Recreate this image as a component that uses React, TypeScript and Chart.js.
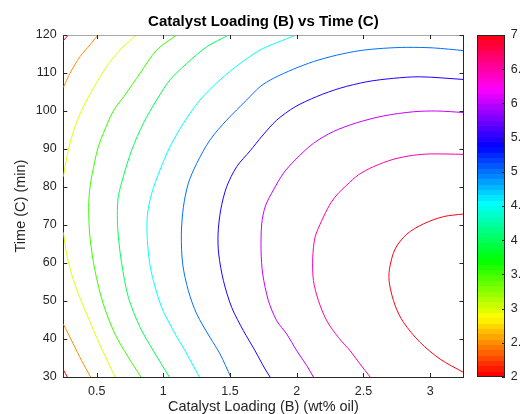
import React, { useEffect, useRef } from "react";
import { Chart, registerables } from "chart.js";

Chart.register(...registerables);

const TITLE = "Catalyst Loading (B) vs Time (C)";
const X_LABEL = "Catalyst Loading (B) (wt% oil)";
const Y_LABEL = "Time (C) (min)";

const xTicks = [0.5, 1, 1.5, 2, 2.5, 3];
const yTicks = [30, 40, 50, 60, 70, 80, 90, 100, 110, 120];
const colorbarTicks = [2, 2.5, 3, 3.5, 4, 4.5, 5, 5.5, 6, 6.5, 7];
const xRange = [0.25, 3.25];
const yRange = [30, 120];
const colorRange = [2, 7];

type P = [number, number];

// contour level 2.0
const level20Top: P[] = [[0.25, 118.5], [0.2875, 120]];
const level20Bottom: P[] = [[0.25, 31.9], [0.28, 30]];
// contour level 2.5
const level25Top: P[] = [[0.51, 120], [0.45, 117.4], [0.375, 114.3], [0.3, 109.9], [0.25, 106.2]];
const level25Bottom: P[] = [[0.25, 43.95], [0.325, 38.7], [0.3875, 34.3], [0.455, 30]];
// contour level 3.0
const level30Top: P[] = [[0.795, 120], [0.675, 116.05], [0.575, 111.7], [0.475, 106.0], [0.4, 101.1], [0.3375, 95.9], [0.2875, 89.7], [0.25, 82.7]];
const level30Bottom: P[] = [[0.25, 68.1], [0.275, 62.4], [0.3125, 57.1], [0.3625, 51.9], [0.425, 46.6], [0.5, 40.4], [0.5625, 35.6], [0.6375, 30]];
// contour level 3.5
const level35: P[] = [[1.1, 120], [0.95, 116.05], [0.825, 109.9], [0.7125, 104.2], [0.625, 100], [0.55, 94.1], [0.5075, 90], [0.4675, 83.6], [0.45, 80], [0.44, 74.65], [0.45, 66.8], [0.4875, 58.0], [0.55, 49.2], [0.6375, 41.3], [0.7375, 35.2], [0.8325, 30]];
// contour level 4.0
const level40: P[] = [[1.49, 120], [1.325, 116.9], [1.175, 112.5], [1.05, 108.2], [0.95, 102.9], [0.85, 96.75], [0.7625, 89.7], [0.7, 82.7], [0.6625, 77.5], [0.655, 72.5], [0.6625, 67.0], [0.6875, 59.9], [0.7375, 51.0], [0.825, 43.1], [0.925, 36.9], [1.045, 30]];
// contour level 4.5
const level45: P[] = [[1.995, 120], [1.85, 117.98], [1.725, 116.05], [1.575, 112.5], [1.425, 108.2], [1.275, 102.9], [1.15, 96.75], [1.05, 90.6], [0.975, 84.5], [0.9125, 78.3], [0.88, 72.5], [0.88, 66.0], [0.8975, 60.0], [0.925, 55.4], [0.9875, 48.3], [1.075, 42.2], [1.1625, 36.9], [1.27, 30]];
// contour level 5.0
const level50: P[] = [[3.25, 115.9], [3.025, 116.6], [2.825, 116.75], [2.65, 116.5], [2.475, 115.9], [2.3, 114.7], [2.125, 113.0], [1.975, 111.0], [1.825, 108.6], [1.725, 106.4], [1.625, 102.9], [1.475, 97.6], [1.35, 92.4], [1.25, 86.2], [1.1875, 81.0], [1.15, 74.65], [1.135, 67.5], [1.145, 59.7], [1.1875, 52.7], [1.25, 46.6], [1.35, 40.4], [1.425, 36.06], [1.505, 30]];
// contour level 5.5
const level55: P[] = [[3.25, 108.3], [2.925, 109.0], [2.725, 108.6], [2.525, 107.7], [2.325, 106.0], [2.15, 103.8], [1.9875, 101.1], [1.85, 97.6], [1.74, 93.4], [1.65, 89.5], [1.55, 85.35], [1.475, 80.1], [1.43, 74.0], [1.41, 67.6], [1.415, 62.4], [1.45, 55.4], [1.5125, 48.3], [1.6, 42.2], [1.6875, 36.9], [1.7625, 32.1], [1.8, 30]];
// contour level 6.0
const level60: P[] = [[3.25, 99.6], [3.05, 100], [2.875, 99.8], [2.65, 98.7], [2.45, 96.9], [2.275, 94.6], [2.125, 91.5], [1.9875, 87.1], [1.9, 83.6], [1.825, 79.2], [1.765, 75.0], [1.7375, 70.3], [1.7325, 63.25], [1.745, 57.1], [1.7875, 50.1], [1.85, 44.8], [1.925, 41.3], [2.0, 36.9], [2.075, 33.0], [2.125, 30]];
// contour level 6.5
const level65: P[] = [[3.25, 88.6], [3.0, 88.7], [2.875, 88.35], [2.725, 87.3], [2.575, 85.35], [2.4625, 83.2], [2.375, 80.5], [2.3, 77.9], [2.245, 75.2], [2.1875, 71.15], [2.1375, 66.8], [2.12, 61.5], [2.125, 55.4], [2.1625, 50.1], [2.225, 44.8], [2.3125, 40.4], [2.4, 36.9], [2.475, 33.4], [2.55, 30]];
// contour level 7.0
const level70: P[] = [[3.25, 72.9], [3.1, 72.2], [2.95, 70.3], [2.825, 67.6], [2.7375, 63.7], [2.695, 58.4], [2.695, 54.5], [2.7375, 48.8], [2.8, 44.4], [2.925, 39.1], [3.075, 34.7], [3.25, 31.2]];

const contourLevels = [2.0, 2.0, 2.5, 2.5, 3.0, 3.0, 3.5, 4.0, 4.5, 5.0, 5.5, 6.0, 6.5, 7.0];
const contourPaths = [level20Top, level20Bottom, level25Top, level25Bottom, level30Top, level30Bottom, level35, level40, level45, level50, level55, level60, level65, level70];

const FONT = "'Liberation Sans', Arial, Helvetica, sans-serif";
const AXIS_COLOR = "#262626";

function hueToRgb(h: number): string {
  const seg = (h % 360) / 60;
  const i = Math.floor(seg);
  const f = seg - i;
  let r = 0, g = 0, b = 0;
  switch (i) {
    case 0: r = 1; g = f; b = 0; break;
    case 1: r = 1 - f; g = 1; b = 0; break;
    case 2: r = 0; g = 1; b = f; break;
    case 3: r = 0; g = 1 - f; b = 1; break;
    case 4: r = f; g = 0; b = 1; break;
    default: r = 1; g = 0; b = 1 - f; break;
  }
  return `rgb(${Math.round(r * 255)},${Math.round(g * 255)},${Math.round(b * 255)})`;
}

const CMAP_SIZE = 64;
function bandColor(k: number): string {
  return hueToRgb((k / CMAP_SIZE) * 360);
}
function levelColor(level: number): string {
  let idx = Math.floor(((level - colorRange[0]) / (colorRange[1] - colorRange[0])) * CMAP_SIZE);
  idx = Math.max(0, Math.min(CMAP_SIZE - 1, idx));
  return bandColor(idx);
}

const mainFramePlugin = {
  id: "mainFrame",
  afterDraw(chart: any) {
    const { ctx, chartArea, scales } = chart;
    const { left, right, top, bottom } = chartArea;
    const x = scales.x;
    const y = scales.y;
    ctx.save();
    ctx.lineWidth = 1;
    ctx.strokeStyle = "#a8a8a8";
    ctx.beginPath();
    ctx.moveTo(left, Math.round(top) + 0.5);
    ctx.lineTo(right, Math.round(top) + 0.5);
    ctx.stroke();
    ctx.strokeStyle = AXIS_COLOR;
    ctx.beginPath();
    ctx.moveTo(Math.round(right) - 0.5, top);
    ctx.lineTo(Math.round(right) - 0.5, bottom);
    ctx.stroke();
    const L = 4;
    ctx.beginPath();
    for (const t of x.ticks) {
      const px = Math.round(x.getPixelForValue(t.value)) + 0.5;
      ctx.moveTo(px, bottom);
      ctx.lineTo(px, bottom - L);
      ctx.moveTo(px, top);
      ctx.lineTo(px, top + L);
    }
    for (const t of y.ticks) {
      const py = Math.round(y.getPixelForValue(t.value)) + 0.5;
      ctx.moveTo(left, py);
      ctx.lineTo(left + L, py);
      ctx.moveTo(right, py);
      ctx.lineTo(right - L, py);
    }
    ctx.stroke();
    ctx.restore();
  },
};

const colorbarFramePlugin = {
  id: "cbFrame",
  afterDraw(chart: any) {
    const { ctx, chartArea, scales } = chart;
    const { left, right, top, bottom } = chartArea;
    const y = scales.y;
    ctx.save();
    ctx.lineWidth = 1;
    ctx.strokeStyle = AXIS_COLOR;
    ctx.strokeRect(Math.round(left) + 0.5, Math.round(top) + 0.5, Math.round(right) - Math.round(left) - 1, Math.round(bottom) - Math.round(top) - 1);
    ctx.beginPath();
    for (const t of y.ticks) {
      const py = Math.round(y.getPixelForValue(t.value)) + 0.5;
      ctx.moveTo(right, py);
      ctx.lineTo(right - 3, py);
    }
    ctx.stroke();
    ctx.restore();
  },
};

export default function App() {
  const mainRef = useRef<HTMLCanvasElement | null>(null);
  const cbRef = useRef<HTMLCanvasElement | null>(null);

  useEffect(() => {
    Chart.defaults.font.family = FONT;
    const datasets = contourPaths.map((path, i) => ({
      label: `level ${contourLevels[i]}`,
      data: path.map(([x, y]) => ({ x, y })),
      showLine: true,
      borderColor: levelColor(contourLevels[i]),
      backgroundColor: levelColor(contourLevels[i]),
      borderWidth: 1,
      pointRadius: 0,
      pointHoverRadius: 0,
      tension: 0.3,
      fill: false,
    }));

    const main = new Chart(mainRef.current as HTMLCanvasElement, {
      type: "scatter",
      data: { datasets },
      options: {
        animation: false,
        responsive: false,
        devicePixelRatio: 1,
        layout: { padding: { left: 0, right: 58.5, top: 0, bottom: 0 } },
        plugins: {
          legend: { display: false },
          tooltip: { enabled: false },
          title: {
            display: true,
            text: TITLE,
            fullSize: false,
            color: "#000000",
            font: { family: FONT, size: 15, weight: "bold", lineHeight: 1.2 },
            padding: { top: 13, bottom: 4 },
          },
        },
        scales: {
          x: {
            type: "linear",
            position: "bottom",
            min: xRange[0],
            max: xRange[1],
            afterBuildTicks: (scale: any) => {
              scale.ticks = xTicks.map((v) => ({ value: v }));
            },
            afterFit: (scale: any) => {
              scale.height = 37;
            },
            ticks: {
              color: AXIS_COLOR,
              font: { family: FONT, size: 12.5 },
              padding: 7,
              maxRotation: 0,
              autoSkip: false,
              callback: (v: any) => String(v),
            },
            grid: { display: false, drawTicks: false },
            border: { display: true, color: AXIS_COLOR, width: 1 },
            title: {
              display: true,
              text: X_LABEL,
              color: AXIS_COLOR,
              font: { family: FONT, size: 14.5, lineHeight: 1 },
              padding: { top: 0, bottom: 0.25 },
            },
          },
          y: {
            type: "linear",
            position: "left",
            min: yRange[0],
            max: yRange[1],
            afterBuildTicks: (scale: any) => {
              scale.ticks = yTicks.map((v) => ({ value: v }));
            },
            afterFit: (scale: any) => {
              scale.width = 63.3;
            },
            ticks: {
              color: AXIS_COLOR,
              font: { family: FONT, size: 12.5 },
              padding: 6.6,
              autoSkip: false,
              callback: (v: any) => String(v),
            },
            grid: { display: false, drawTicks: false },
            border: { display: true, color: AXIS_COLOR, width: 1 },
            title: {
              display: true,
              text: Y_LABEL,
              color: AXIS_COLOR,
              font: { family: FONT, size: 14.5, lineHeight: 1 },
              padding: { top: 13.25, bottom: 0 },
            },
          },
        },
      },
      plugins: [mainFramePlugin],
    } as any);

    const cb = new Chart(cbRef.current as HTMLCanvasElement, {
      type: "bar",
      data: {
        labels: ["colorbar"],
        datasets: [
          {
            data: [[colorRange[0], colorRange[1]]],
            barPercentage: 1,
            categoryPercentage: 1,
            borderWidth: 0,
            backgroundColor: (c: any) => {
              const chart = c.chart;
              const area = chart.chartArea;
              const ys = chart.scales.y;
              if (!area || !ys) return "#ff0000";
              const y0 = ys.getPixelForValue(colorRange[0]);
              const y1 = ys.getPixelForValue(colorRange[1]);
              const g = chart.ctx.createLinearGradient(0, y0, 0, y1);
              for (let k = 0; k < CMAP_SIZE; k++) {
                const col = bandColor(k);
                g.addColorStop(k / CMAP_SIZE, col);
                g.addColorStop(Math.min(1, (k + 1) / CMAP_SIZE - 0.0001), col);
              }
              return g;
            },
          },
        ],
      },
      options: {
        animation: false,
        responsive: false,
        devicePixelRatio: 1,
        layout: { padding: { left: 7.3, right: 0, top: 35, bottom: 37 } },
        plugins: { legend: { display: false }, tooltip: { enabled: false }, title: { display: false } },
        scales: {
          x: { display: false },
          y: {
            position: "right",
            min: colorRange[0],
            max: colorRange[1],
            afterBuildTicks: (scale: any) => {
              scale.ticks = colorbarTicks.map((v) => ({ value: v }));
            },
            afterFit: (scale: any) => {
              scale.width = 15;
            },
            ticks: {
              color: AXIS_COLOR,
              font: { family: FONT, size: 12.5 },
              padding: 5.7,
              autoSkip: false,
              callback: (v: any) => String(v),
            },
            grid: { display: false, drawTicks: false },
            border: { display: false },
          },
        },
      },
      plugins: [colorbarFramePlugin],
    } as any);

    return () => {
      main.destroy();
      cb.destroy();
    };
  }, []);

  return (
    <div style={{ position: "absolute", left: 0, top: 0, width: 522, height: 414, overflow: "hidden", background: "#ffffff" }}>
      <canvas ref={mainRef} width={522} height={414} style={{ position: "absolute", left: 0, top: 0, width: 522, height: 414 }} />
      <canvas ref={cbRef} width={50} height={414} style={{ position: "absolute", left: 470, top: 0, width: 50, height: 414 }} />
    </div>
  );
}
